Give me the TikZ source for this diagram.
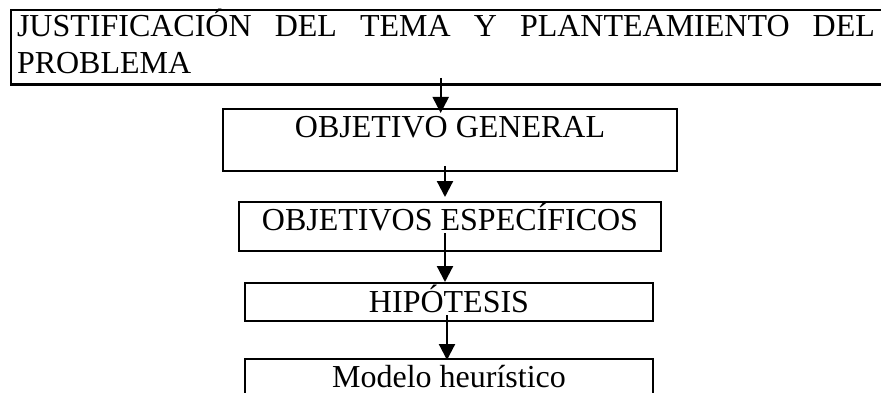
\documentclass[tikz,border=0pt]{standalone}
\usepackage{fontspec}
\setmainfont{Liberation Serif}
\usepackage{tikz}
\usetikzlibrary{positioning,arrows.meta}
\tikzstyle{box} = [rectangle, draw, line width=2.4pt, outer sep=0pt, inner xsep=0pt,
                   inner ysep=0pt, font=\fontsize{32pt}{37pt}\selectfont]
\tikzstyle{ptr} = [draw, line width=2.2pt, -{Triangle[length=16pt,width=16pt]}]

\begin{document}
\begin{tikzpicture}[x=1pt, y=1pt]
		\useasboundingbox (0,0) rectangle (881,-393);
		\node[box, anchor=north west, inner xsep=6pt, text height=27pt, text depth=47.5pt] (just) at (11,-10)
			{\parbox[t]{858pt}{\spaceskip=0.25em plus 1em JUSTIFICACIÓN DEL TEMA Y PLANTEAMIENTO DEL PROBLEMA}\hspace*{14pt}};
		\node[box, minimum width=454pt, text height=29pt, text depth=33pt, below of=just, node distance=92.75pt, xshift=-3pt] (gen) {OBJETIVO GENERAL};
		\node[box, minimum width=422pt, text height=28pt, text depth=21pt, below of=gen, node distance=86.5pt] (esp) {OBJETIVOS ESPECÍFICOS};
		\node[box, minimum width=408pt, text height=29pt, text depth=9pt, below of=esp, node distance=75.5pt, xshift=-1pt] (hip) {HIPÓTESIS};
		\node[box, minimum width=408pt, text height=28pt, text depth=23pt, below of=hip, node distance=82.5pt] (mod) {Modelo heurístico};

		\draw[ptr] ([xshift=-12.3pt,yshift=6.5pt]just.south) -- ([xshift=-9.3pt,yshift=-4pt]gen.north);
		\draw[ptr] ([xshift=-5pt,yshift=5pt]gen.south) -- ([xshift=-5pt,yshift=5pt]esp.north);
		\draw[ptr] ([xshift=-5pt,yshift=18pt]esp.south) -- ([xshift=-4pt,yshift=1pt]hip.north);
		\draw[ptr] ([xshift=-2pt,yshift=6pt]hip.south) -- ([xshift=-2pt,yshift=-1pt]mod.north);
	\end{tikzpicture}
\end{document}
